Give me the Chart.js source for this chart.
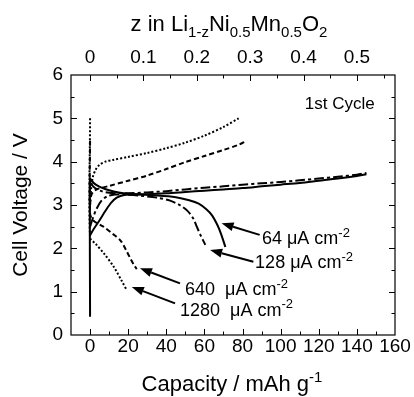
<!DOCTYPE html>
<html><head><meta charset="utf-8">
<script src="https://cdn.jsdelivr.net/npm/chart.js@4.4.1/dist/chart.umd.min.js"></script>
<style>html,body{margin:0;padding:0;background:#fff}#wrap{width:414px;height:397px;position:relative}</style>
</head><body><div id="wrap"><canvas id="c" width="414" height="397"></canvas></div>
<script>
// ---------- data ----------
const capTicks = [0, 20, 40, 60, 80, 100, 120, 140, 160];
const capMinorTicks = [10, 30, 50, 70, 90, 110, 130, 150];
const voltTicks = [0, 1, 2, 3, 4, 5, 6];
const voltMinorTicks = [0.5, 1.5, 2.5, 3.5, 4.5, 5.5];
const zTicks = [0, 0.1, 0.2, 0.3, 0.4, 0.5];
const zMinorTicks = [0.05, 0.15, 0.25, 0.35, 0.45, 0.55];
const capPerZ = 280; // mAh/g for z = 1

const currentLabels = ['64 \u03bcA cm', '128 \u03bcA cm', '640  \u03bcA cm', '1280  \u03bcA cm'];

// charge curves
const ch64Cap = [0, 0, 1, 3, 6, 10, 15, 20, 25, 30, 40, 50, 60, 70, 80, 90, 100, 110, 120, 130, 140, 145];
const ch64V   = [0.42, 3.6, 3.55, 3.47, 3.4, 3.34, 3.29, 3.26, 3.25, 3.25, 3.27, 3.3, 3.33, 3.36, 3.39, 3.43, 3.47, 3.51, 3.56, 3.61, 3.67, 3.71];
const ch128Cap = [0, 1, 3, 6, 10, 15, 20, 30, 40, 50, 60, 70, 80, 90, 100, 110, 120, 130, 140, 145];
const ch128V   = [3.52, 3.46, 3.38, 3.32, 3.28, 3.27, 3.27, 3.29, 3.32, 3.36, 3.4, 3.43, 3.47, 3.5, 3.53, 3.57, 3.61, 3.65, 3.7, 3.74];
const ch640Cap = [0, 0.5, 1.5, 4, 10, 20, 30, 40, 50, 60, 70, 78, 82];
const ch640V   = [3.0, 3.2, 3.3, 3.37, 3.44, 3.56, 3.68, 3.83, 3.99, 4.13, 4.27, 4.39, 4.48];
const ch1280Cap = [0, 0.5, 1.5, 3, 5, 8, 12, 20, 30, 40, 50, 60, 70, 78];
const ch1280V   = [3.0, 3.35, 3.65, 3.82, 3.93, 4.0, 4.04, 4.11, 4.2, 4.31, 4.44, 4.6, 4.8, 5.0];

// discharge curves
const dis64Cap = [0, 2, 5, 8, 11, 14, 18, 25, 35, 45, 52, 57, 61, 64, 67, 69, 71];
const dis64V   = [2.3, 2.45, 2.65, 2.86, 3.05, 3.17, 3.23, 3.24, 3.22, 3.18, 3.11, 3.03, 2.9, 2.76, 2.52, 2.3, 2.03];
const dis128Cap = [0, 1.5, 3.5, 6, 9, 13, 18, 25, 35, 42, 47, 51, 54, 56, 58, 60.5];
const dis128V   = [2.5, 2.7, 2.92, 3.1, 3.2, 3.24, 3.24, 3.22, 3.17, 3.1, 3.0, 2.87, 2.7, 2.5, 2.3, 2.08];
const dis640Cap = [0, 0, 2, 7, 12, 16, 19, 21, 23, 24.5];
const dis640V   = [4.48, 2.8, 2.63, 2.5, 2.33, 2.18, 1.95, 1.78, 1.62, 1.52];
const dis1280Cap = [0, 0, 3, 7.5, 12.5, 16.6, 19.2];
const dis1280V   = [5.0, 2.25, 2.1, 1.87, 1.57, 1.25, 1.04];

// annotation anchors (data units)
const arrowTailCap = [89, 85.7, 47.2, 44.6];
const arrowTailV   = [2.31, 1.69, 1.19, 0.73];
const arrowTipCap  = [69, 63, 26.2, 21.9];
const arrowTipV    = [2.58, 1.96, 1.54, 1.11];
const labelCap = [90.2, 86.6, 49.8, 47.2];
const labelV   = [2.24, 1.7, 1.08, 0.6];
const cycleLabel = '1st Cycle';
const cycleCap = 131, cycleV = 5.35;

// ---------- helpers ----------
const FONT = '"Liberation Sans", Arial, Helvetica, sans-serif';
const pts = (xs, ys) => xs.map((x, i) => ({x: x, y: ys[i]}));
const styles = {
  solid: [], dashdot: [10, 3, 3, 3], dashed: [5, 3], dotted: [2, 2]
};
function ds(xs, ys, dash) {
  return {data: pts(xs, ys), showLine: true, borderColor: '#000', borderWidth: 2,
    borderDash: dash, pointRadius: 0, tension: 0.3, fill: false};
}

function drawRich(ctx, parts, x, y, size, align) {
  let w = 0;
  const fonts = parts.map(p => (p.sub || p.sup) ? Math.round(size * 0.7) : size);
  parts.forEach((p, i) => { ctx.font = fonts[i] + 'px ' + FONT; w += ctx.measureText(p.t).width; });
  let cx = align === 'center' ? x - w / 2 : x;
  ctx.textAlign = 'left';
  ctx.textBaseline = 'alphabetic';
  parts.forEach((p, i) => {
    ctx.font = fonts[i] + 'px ' + FONT;
    let dy = 0;
    if (p.sub) dy = size * 0.28;
    if (p.sup) dy = -size * 0.4;
    ctx.fillText(p.t, cx, y + dy);
    cx += ctx.measureText(p.t).width;
  });
}

function drawArrow(ctx, x1, y1, x2, y2) {
  const ang = Math.atan2(y2 - y1, x2 - x1);
  const hl = 12, hw = 4.5;
  const bx = x2 - hl * Math.cos(ang), by = y2 - hl * Math.sin(ang);
  ctx.beginPath(); ctx.moveTo(x1, y1); ctx.lineTo(bx, by); ctx.lineWidth = 2; ctx.stroke();
  ctx.beginPath();
  ctx.moveTo(x2, y2);
  ctx.lineTo(bx + hw * Math.sin(ang), by - hw * Math.cos(ang));
  ctx.lineTo(bx - hw * Math.sin(ang), by + hw * Math.cos(ang));
  ctx.closePath(); ctx.fill();
}

const framePlugin = {
  id: 'frame',
  afterDraw(chart) {
    const ctx = chart.ctx, a = chart.chartArea;
    const xs = chart.scales.x, x2s = chart.scales.x2, ys = chart.scales.y;
    ctx.save();
    ctx.strokeStyle = '#000'; ctx.fillStyle = '#000'; ctx.lineWidth = 1.2;
    ctx.setLineDash([]);
    ctx.strokeRect(a.left, a.top, a.right - a.left, a.bottom - a.top);
    const MAJ = 6, MIN = 3.5;
    ctx.lineWidth = 1;
    ctx.beginPath();
    const vt = (px, len, bottom) => { const X = Math.round(px) + 0.5;
      if (bottom) { ctx.moveTo(X, a.bottom); ctx.lineTo(X, a.bottom - len); }
      else { ctx.moveTo(X, a.top); ctx.lineTo(X, a.top + len); } };
    const ht = (py, len) => { const Y = Math.round(py) + 0.5;
      ctx.moveTo(a.left, Y); ctx.lineTo(a.left + len, Y);
      ctx.moveTo(a.right, Y); ctx.lineTo(a.right - len, Y); };
    capTicks.forEach(v => { if (v < 160) vt(xs.getPixelForValue(v), MAJ, true); });
    capMinorTicks.forEach(v => vt(xs.getPixelForValue(v), MIN, true));
    zTicks.forEach(v => vt(x2s.getPixelForValue(v), MAJ, false));
    zMinorTicks.forEach(v => vt(x2s.getPixelForValue(v), MIN, false));
    voltTicks.forEach(v => { if (v > 0 && v < 6) ht(ys.getPixelForValue(v), MAJ); });
    voltMinorTicks.forEach(v => ht(ys.getPixelForValue(v), MIN));
    ctx.stroke();

    // titles
    drawRich(ctx, [{t: 'z in Li'}, {t: '1-z', sub: 1}, {t: 'Ni'}, {t: '0.5', sub: 1}, {t: 'Mn'}, {t: '0.5', sub: 1}, {t: 'O'}, {t: '2', sub: 1}], 229, 31, 22, 'center');
    drawRich(ctx, [{t: 'Capacity / mAh g'}, {t: '-1', sup: 1}], 232, 391, 22, 'center');
    ctx.save();
    ctx.translate(27, (a.top + a.bottom) / 2);
    ctx.rotate(-Math.PI / 2);
    drawRich(ctx, [{t: 'Cell Voltage / V'}], 0, 0, 21, 'center');
    ctx.restore();

    // annotations
    for (let i = 0; i < currentLabels.length; i++) {
      drawArrow(ctx, xs.getPixelForValue(arrowTailCap[i]), ys.getPixelForValue(arrowTailV[i]),
        xs.getPixelForValue(arrowTipCap[i]), ys.getPixelForValue(arrowTipV[i]));
      drawRich(ctx, [{t: currentLabels[i]}, {t: '-2', sup: 1}], xs.getPixelForValue(labelCap[i]),
        ys.getPixelForValue(labelV[i]) + 6.5, 18, 'left');
    }
    drawRich(ctx, [{t: cycleLabel}], xs.getPixelForValue(cycleCap), ys.getPixelForValue(cycleV) + 6, 17, 'center');
    ctx.restore();
  }
};

const tickFont = {family: FONT, size: 19};
new Chart(document.getElementById('c'), {
  type: 'scatter',
  data: {datasets: [
    ds(ch64Cap, ch64V, styles.solid), ds(dis64Cap, dis64V, styles.solid),
    ds(ch128Cap, ch128V, styles.dashdot), ds(dis128Cap, dis128V, styles.dashdot),
    ds(ch640Cap, ch640V, styles.dashed), ds(dis640Cap, dis640V, styles.dashed),
    ds(ch1280Cap, ch1280V, styles.dotted), ds(dis1280Cap, dis1280V, styles.dotted)
  ]},
  options: {
    responsive: false, animation: false, devicePixelRatio: 1,
    layout: {padding: 0},
    plugins: {legend: {display: false}, tooltip: {enabled: false}},
    scales: {
      x: {type: 'linear', position: 'bottom', min: -10, max: 160,
        afterBuildTicks: s => { s.ticks = capTicks.map(v => ({value: v})); },
        afterFit: s => { s.height = 62; },
        grid: {display: false, drawTicks: false}, border: {display: false},
        ticks: {font: tickFont, color: '#000', padding: 0, maxRotation: 0, autoSkip: false}},
      x2: {type: 'linear', position: 'top', min: -10 / capPerZ, max: 160 / capPerZ,
        afterBuildTicks: s => { s.ticks = zTicks.map(v => ({value: v})); },
        afterFit: s => { s.height = 75; },
        grid: {display: false, drawTicks: false}, border: {display: false},
        ticks: {font: tickFont, color: '#000', padding: 6, maxRotation: 0, autoSkip: false,
          callback: v => String(v)}},
      y: {type: 'linear', position: 'left', min: 0, max: 6,
        afterBuildTicks: s => { s.ticks = voltTicks.map(v => ({value: v})); },
        afterFit: s => { s.width = 71; },
        grid: {display: false, drawTicks: false}, border: {display: false},
        ticks: {font: tickFont, color: '#000', padding: 8}},
      y2: {type: 'linear', position: 'right', min: 0, max: 6,
        afterFit: s => { s.width = 19; },
        grid: {display: false, drawTicks: false}, border: {display: false},
        ticks: {display: false}}
    }
  },
  plugins: [framePlugin]
});
</script></body></html>
